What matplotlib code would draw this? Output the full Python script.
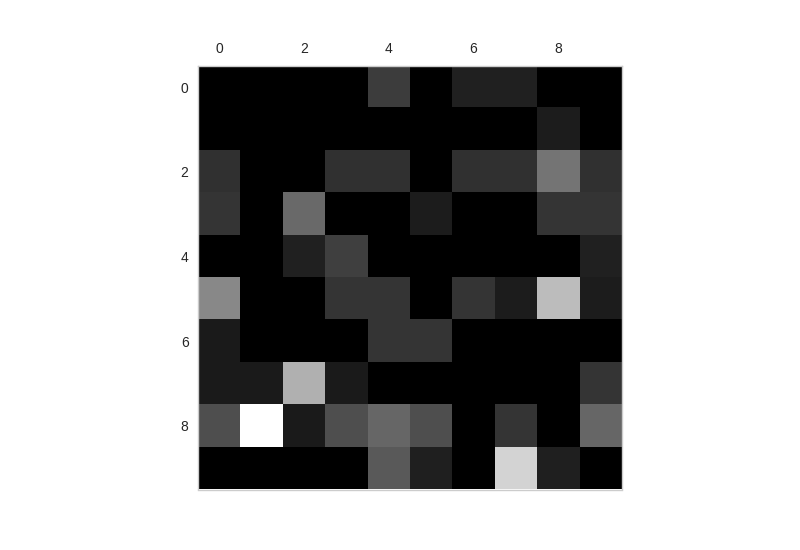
import numpy as np
import matplotlib
matplotlib.use("Agg")
import matplotlib.pyplot as plt

row0 = [0, 0, 0, 0, 60, 0, 32, 32, 0, 0]
row1 = [0, 0, 0, 0, 0, 0, 0, 0, 28, 0]
row2 = [48, 0, 0, 48, 48, 0, 48, 48, 116, 48]
row3 = [53, 0, 106, 0, 0, 28, 0, 0, 53, 53]
row4 = [0, 0, 33, 63, 0, 0, 0, 0, 0, 33]
row5 = [136, 0, 0, 53, 53, 0, 53, 28, 188, 28]
row6 = [26, 0, 0, 0, 53, 53, 0, 0, 0, 0]
row7 = [26, 26, 176, 26, 0, 0, 0, 0, 0, 52]
row8 = [78, 255, 26, 78, 102, 78, 0, 52, 0, 102]
row9 = [0, 0, 0, 0, 90, 31, 0, 212, 31, 0]

matrix = np.array([row0, row1, row2, row3, row4, row5, row6, row7, row8, row9])

plt.style.use('seaborn-v0_8-whitegrid')
fig, ax = plt.subplots(figsize=(8, 5.5), dpi=100)
ax.matshow(matrix, cmap='gray', vmin=0, vmax=255)
ax.grid(False)
ax.tick_params(axis='both', which='both', pad=7, labelcolor='#262626')
fig.savefig('out.png')
